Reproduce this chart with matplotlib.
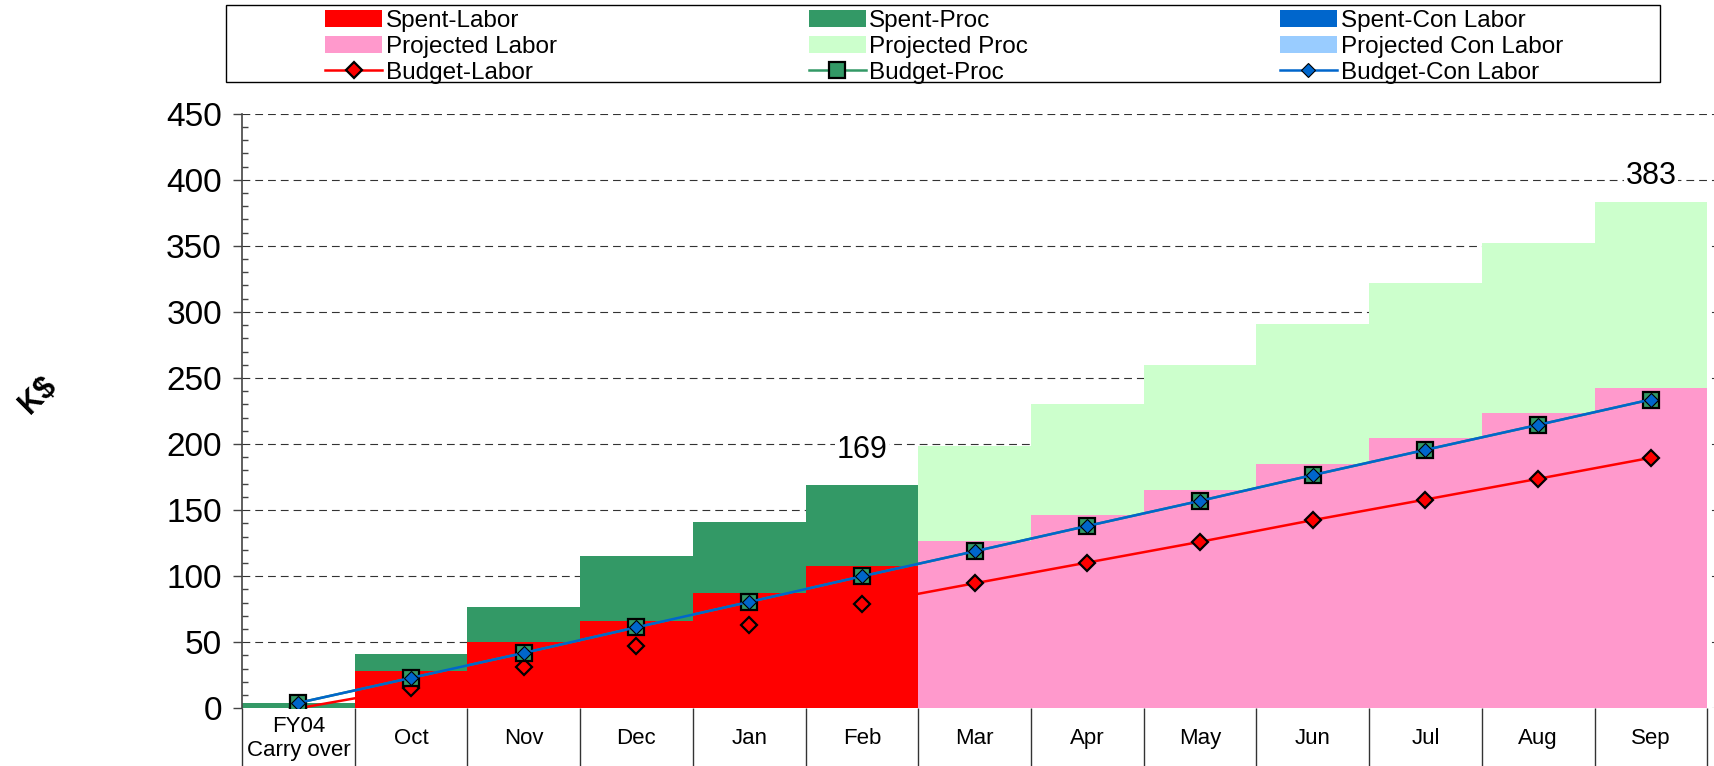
import matplotlib
matplotlib.use("Agg")
import matplotlib.pyplot as plt
from matplotlib.patches import Rectangle
from matplotlib.ticker import MultipleLocator
from matplotlib.transforms import blended_transform_factory
import numpy as np

plt.rcParams['font.family'] = ['Liberation Sans', 'DejaVu Sans']

categories = ["FY04\nCarry over", "Oct", "Nov", "Dec", "Jan", "Feb",
              "Mar", "Apr", "May", "Jun", "Jul", "Aug", "Sep"]
n_spent = 6  # FY04 .. Feb are actuals, Mar .. Sep projected

spent_labor = [0, 28.5, 50.5, 66.4, 87.2, 108.0]
spent_proc = [4.1, 12.7, 26.5, 48.9, 53.8, 61.0]
spent_con = [0, 0, 0, 0, 0, 0]
proj_labor = [126.9, 146.6, 165.5, 184.9, 204.8, 223.5, 242.4]
proj_proc = [71.9, 83.7, 94.6, 105.9, 117.1, 128.7, 140.4]
proj_con = [0, 0, 0, 0, 0, 0, 0]

budget_labor = [0, 15.1, 31.0, 46.9, 63.1, 78.7, 94.6, 110.3, 126.0,
                142.4, 158.0, 173.7, 189.6]
budget_proc = [4.1, 23.0, 41.9, 61.3, 80.5, 99.9, 118.8, 138.0, 157.0,
               176.5, 195.6, 214.5, 233.7]
budget_con = [4.1, 23.0, 41.9, 61.3, 80.5, 99.9, 118.8, 138.0, 157.0,
              176.5, 195.6, 214.5, 233.7]

RED, PINK = "#FF0000", "#FF99CC"
GREEN, LGREEN = "#339966", "#CCFFCC"
BLUE, LBLUE = "#0066CC", "#99CCFF"

W, H = 1714, 766
fig = plt.figure(figsize=(W / 100, H / 100), dpi=100)
ax = fig.add_axes([242 / W, 57.7 / H, 1472 / W, 594.6 / H])

x = np.arange(len(categories))
xs = x[:n_spent]
xp = x[n_spent:]

b1 = ax.bar(xs, spent_labor, width=1.0, color=RED, lw=0)
b2 = ax.bar(xs, spent_proc, bottom=spent_labor, width=1.0, color=GREEN, lw=0)
b3 = ax.bar(xs, spent_con, bottom=np.add(spent_labor, spent_proc),
            width=1.0, color=BLUE, lw=0)
p1 = ax.bar(xp, proj_labor, width=1.0, color=PINK, lw=0)
p2 = ax.bar(xp, proj_proc, bottom=proj_labor, width=1.0, color=LGREEN, lw=0)
p3 = ax.bar(xp, proj_con, bottom=np.add(proj_labor, proj_proc),
            width=1.0, color=LBLUE, lw=0)

l1, = ax.plot(x, budget_labor, color=RED, lw=1.8, marker="D", ms=8,
              mfc=RED, mec="black", mew=1.6, zorder=3)
l2, = ax.plot(x, budget_proc, color=GREEN, lw=1.8, marker="s", ms=11.5,
              mfc=GREEN, mec="black", mew=1.6, zorder=3.2)
l3, = ax.plot(x, budget_con, color=BLUE, lw=1.8, marker="D", ms=7,
              mfc=BLUE, mec="black", mew=0.8, zorder=3.4)

# totals above Feb and Sep
tot_spent = np.add(np.add(spent_labor, spent_proc), spent_con)
tot_proj = np.add(np.add(proj_labor, proj_proc), proj_con)
for xi, t, dy in [(xs[-1], tot_spent[-1], 25), (xp[-1], tot_proj[-1], 19)]:
    ax.annotate("%.0f" % t, (xi, t), xytext=(0, dy), textcoords="offset points",
                ha="center", va="center", fontsize=22,
                bbox=dict(fc="white", ec="none", pad=1), zorder=5)

ax.set_xlim(-0.5, 12.56)
ax.set_ylim(0, 450)
ax.yaxis.set_major_locator(MultipleLocator(50))
ax.yaxis.set_minor_locator(MultipleLocator(10))
ax.tick_params(axis="y", which="major", direction="out", length=6.5,
               width=1, labelsize=24, pad=8, color="#444444")
ax.tick_params(axis="y", which="minor", direction="in", length=4.5,
               width=1, color="#444444")
ax.set_xticks(x)
ax.set_xticklabels(categories)
ax.tick_params(axis="x", length=0, labelsize=16, pad=22)
for lab in ax.get_xticklabels():
    lab.set_verticalalignment("center")
    lab.set_multialignment("center")

for s in ["top", "right", "bottom"]:
    ax.spines[s].set_visible(False)
ax.spines["left"].set_color("#444444")
ax.spines["left"].set_linewidth(1.2)

ax.set_axisbelow(True)
ax.yaxis.grid(True, which="major", linestyle=(0, (7, 4.5)), color="#333333", lw=0.8)

# category cell separators below the axis
trans = blended_transform_factory(ax.transData, ax.transAxes)
ax.vlines(np.arange(-0.5, len(categories)), -60 / 594.6, 0, transform=trans,
          color="#333333", lw=1, clip_on=False)

fig.text(38 / W, 1 - 395 / H, "K$", rotation=45, fontsize=22,
         fontweight="bold", ha="center", va="center")

handles = [b1, p1, l1, b2, p2, l2, b3, p3, l3]
labels = ["Spent-Labor", "Projected Labor", "Budget-Labor",
          "Spent-Proc", "Projected Proc", "Budget-Proc",
          "Spent-Con Labor", "Projected Con Labor", "Budget-Con Labor"]
fig.legend(handles, labels, ncol=3, loc="center", mode="expand",
           bbox_to_anchor=(313 / W, 1 - 84 / H, (1575 - 313) / W, 74 / H),
           frameon=False, borderpad=0, fontsize=17.5, handlelength=2.35,
           handletextpad=0.15, labelspacing=0.16, numpoints=1)
fig.add_artist(Rectangle((226 / W, 1 - 82 / H), (1660 - 226) / W, 77 / H,
                         transform=fig.transFigure, fill=False,
                         ec="black", lw=1))

fig.savefig("out.png", dpi=100)
